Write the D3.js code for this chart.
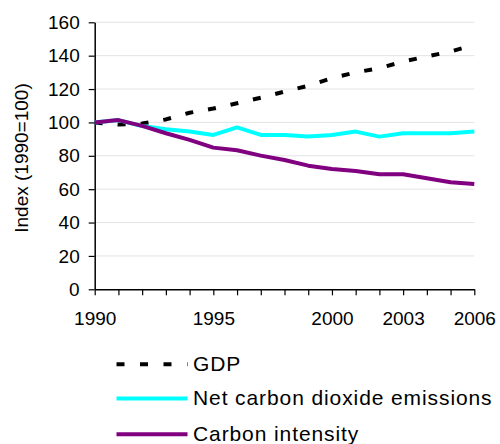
<!DOCTYPE html>
<html>
<head>
<meta charset="utf-8">
<script src="https://cdn.jsdelivr.net/npm/d3@7"></script>
<style>
  html, body { margin: 0; padding: 0; background: #fff; }
  svg { display: block; font-family: "Liberation Sans", Arial, sans-serif; }
</style>
</head>
<body>
<svg id="chart" width="500" height="444"></svg>
<script>
// Index values, 1990 = 100
const years = [1990, 1991, 1992, 1993, 1994, 1995, 1996, 1997, 1998, 1999, 2000, 2001, 2002, 2003, 2004, 2005, 2006];
const labelYears = [1990, 1995, 2000, 2003, 2006];
const gdp = [100, 98.7, 99.3, 101.8, 105.8, 108.3, 111.5, 114.8, 118.5, 122, 126.5, 130, 132.5, 136.5, 139.5, 142.5, 146.5];
const netEmissions = [100, 101.4, 97.8, 95.9, 94.5, 92.5, 97, 92.5, 92.5, 91.5, 92.5, 94.5, 91.5, 93.5, 93.5, 93.5, 94.5];
const carbonIntensity = [100, 101.4, 97.9, 93.5, 89.5, 84.9, 83.3, 80.1, 77.5, 74.1, 72.1, 70.9, 68.9, 68.9, 66.5, 64.1, 63.1];
const yTicks = [0, 20, 40, 60, 80, 100, 120, 140, 160];
const yTitle = "Index (1990=100)";

const series = [
  { name: "GDP", values: gdp, color: "#000000", dash: "8,15" },
  { name: "Net carbon dioxide emissions", values: netEmissions, color: "#00FFFF", dash: null },
  { name: "Carbon intensity", values: carbonIntensity, color: "#800080", dash: null }
];

const svg = d3.select("#chart");
const plotLeft = 94.7, plotRight = 474.3, plotTop = 22.3, plotBottom = 289.3;

const x = d3.scalePoint().domain(years).range([plotLeft, plotRight]);
const y = d3.scaleLinear().domain([0, 160]).range([plotBottom, plotTop]);

// horizontal gridlines
svg.append("g")
  .selectAll("line")
  .data(yTicks.filter(d => d > 0))
  .join("line")
  .attr("x1", plotLeft).attr("x2", plotRight)
  .attr("y1", d => y(d)).attr("y2", d => y(d))
  .attr("stroke", "#e3e3e3").attr("stroke-width", 1);

// y axis
const yAxis = svg.append("g")
  .attr("transform", `translate(${plotLeft},0)`)
  .call(d3.axisLeft(y).tickValues(yTicks).tickSize(6).tickPadding(9).tickSizeOuter(0));
yAxis.select(".domain").attr("stroke", "#000").attr("stroke-width", 1.5);
yAxis.selectAll(".tick line").attr("stroke", "#000").attr("stroke-width", 1.2);
yAxis.selectAll(".tick text")
  .attr("font-size", 19).attr("fill", "#000")
  .attr("font-family", "'Liberation Sans', Arial, sans-serif");

// x axis
const xAxis = svg.append("g")
  .attr("transform", `translate(0,${plotBottom})`)
  .call(d3.axisBottom(x)
    .tickFormat(d => labelYears.includes(d) ? d : "")
    .tickSize(6).tickPadding(16).tickSizeOuter(0));
xAxis.select(".domain").attr("stroke", "#000").attr("stroke-width", 1.5);
xAxis.selectAll(".tick line").attr("stroke", "#000").attr("stroke-width", 1.2);
xAxis.selectAll(".tick text")
  .attr("font-size", 19).attr("fill", "#000")
  .attr("font-family", "'Liberation Sans', Arial, sans-serif");

// y axis title
svg.append("text")
  .attr("transform", "translate(28,158) rotate(-90)")
  .attr("text-anchor", "middle")
  .attr("font-size", 19)
  .attr("fill", "#000")
  .text(yTitle);

// series lines
const line = d3.line()
  .x((d, i) => x(years[i]))
  .y(d => y(d));

svg.append("g")
  .selectAll("path")
  .data(series)
  .join("path")
  .attr("d", d => line(d.values))
  .attr("fill", "none")
  .attr("stroke", d => d.color)
  .attr("stroke-width", 4)
  .attr("stroke-dasharray", d => d.dash)
  .attr("stroke-linejoin", "round");

// legend
const legendRows = [364.3, 398.5, 434.3];
const legend = svg.append("g")
  .selectAll("g")
  .data(series)
  .join("g")
  .attr("transform", (d, i) => `translate(0,${legendRows[i]})`);

legend.append("line")
  .attr("x1", 116.5).attr("x2", 187.5)
  .attr("y1", 0).attr("y2", 0)
  .attr("stroke", d => d.color)
  .attr("stroke-width", 4)
  .attr("stroke-dasharray", d => d.dash ? "8,15.5" : null);

legend.append("text")
  .attr("x", 193)
  .attr("y", 6.5)
  .attr("font-size", 21)
  .attr("letter-spacing", 0.9)
  .attr("fill", "#000")
  .text(d => d.name);
</script>
</body>
</html>
